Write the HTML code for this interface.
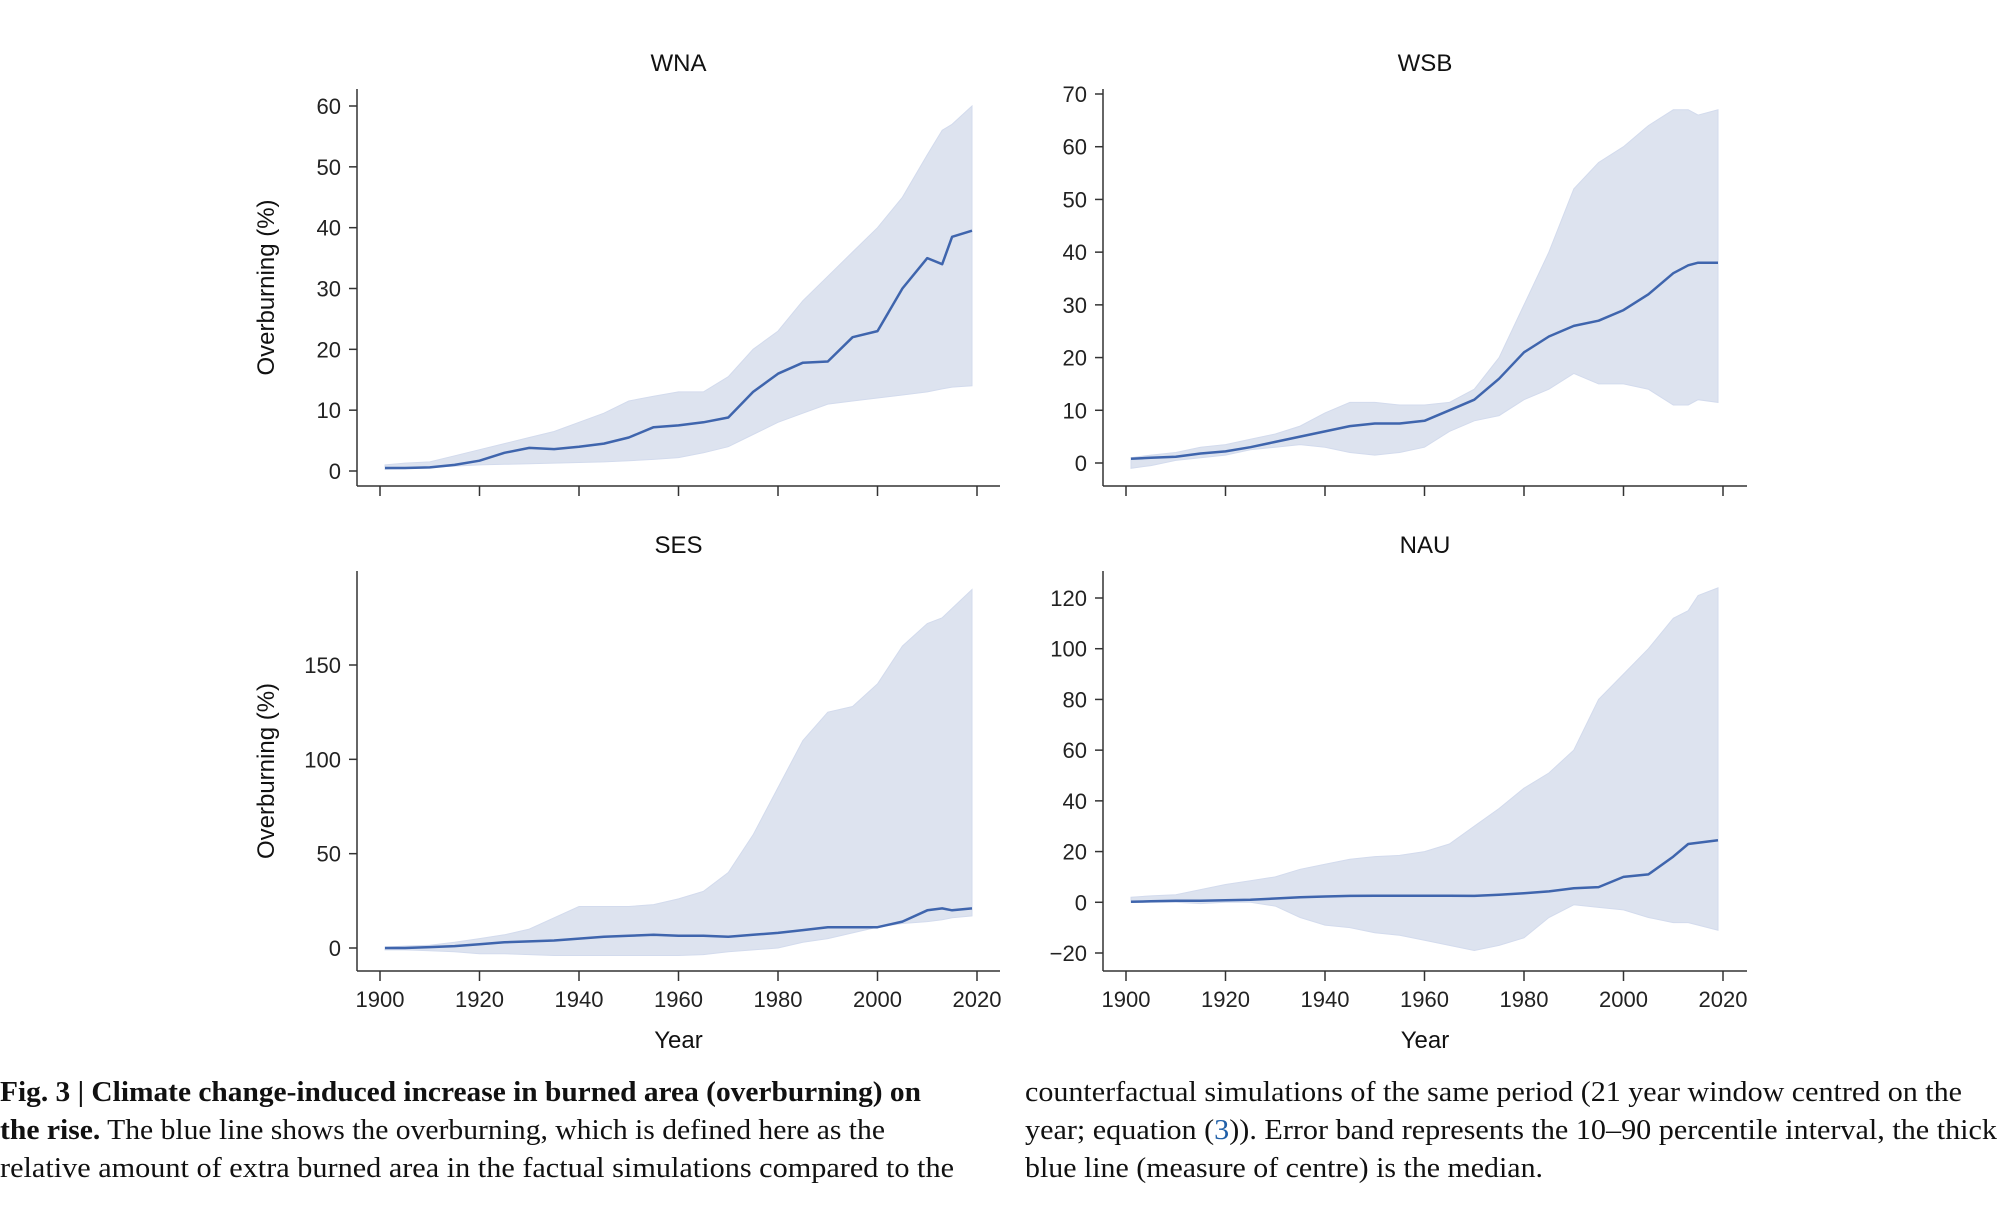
<!DOCTYPE html>
<html><head><meta charset="utf-8">
<style>
html,body{margin:0;padding:0;background:#fff;}
svg{display:block;}
.tick{font-family:"Liberation Sans",sans-serif;font-size:22px;fill:#222;}
.ttl{font-family:"Liberation Sans",sans-serif;font-size:24px;fill:#111;}
.cap{font-family:"Liberation Serif",serif;font-size:28px;fill:#111;}
</style></head>
<body>
<svg id="fig" width="2000" height="1216" viewBox="0 0 2000 1216" xmlns="http://www.w3.org/2000/svg">
<g id="panels"></g>
<g>
<text class="cap" x="0" y="1101" textLength="921" lengthAdjust="spacingAndGlyphs" font-weight="bold">Fig. 3 | Climate change-induced increase in burned area (overburning) on</text>
<text class="cap" x="0" y="1139" textLength="885" lengthAdjust="spacingAndGlyphs"><tspan font-weight="bold">the rise.</tspan> The blue line shows the overburning, which is defined here as the</text>
<text class="cap" x="0" y="1177" textLength="954" lengthAdjust="spacingAndGlyphs">relative amount of extra burned area in the factual simulations compared to the</text>
<text class="cap" x="1025" y="1101" textLength="937" lengthAdjust="spacingAndGlyphs">counterfactual simulations of the same period (21 year window centred on the</text>
<text class="cap" x="1025" y="1139" textLength="972" lengthAdjust="spacingAndGlyphs">year; equation (<tspan fill="#1f5fa8">3</tspan>)). Error band represents the 10–90 percentile interval, the thick</text>
<text class="cap" x="1025" y="1177" textLength="518" lengthAdjust="spacingAndGlyphs">blue line (measure of centre) is the median.</text>
</g>
</svg>
<script>
const years = [1901,1905,1910,1915,1920,1925,1930,1935,1940,1945,1950,1955,1960,1965,1970,1975,1980,1985,1990,1995,2000,2005,2010,2013,2015,2019];
const xTicks = [1900,1920,1940,1960,1980,2000,2020];

const wnaMedian = [0.5,0.5,0.6,1,1.7,3,3.8,3.6,4,4.5,5.5,7.2,7.5,8,8.8,13,16,17.8,18,22,23,30,35,34,38.5,39.5];
const wnaHigh = [1,1.3,1.5,2.5,3.5,4.5,5.5,6.5,8,9.5,11.5,12.3,13,13,15.5,20,23,28,32,36,40,45,52,56,57,60];
const wnaLow = [0.3,0.4,0.6,0.8,1,1.1,1.2,1.3,1.4,1.5,1.7,1.9,2.2,3,4,6,8,9.5,11,11.5,12,12.5,13,13.5,13.8,14];
const wnaTicks = [0,10,20,30,40,50,60];

const wsbMedian = [0.8,1,1.2,1.8,2.2,3,4,5,6,7,7.5,7.5,8,10,12,16,21,24,26,27,29,32,36,37.5,38,38];
const wsbHigh = [1,1.5,2,3,3.5,4.5,5.5,7,9.5,11.5,11.5,11,11,11.5,14,20,30,40,52,57,60,64,67,67,66,67];
const wsbLow = [-1,-0.5,0.5,1,1.5,2.5,3,3.5,3,2,1.5,2,3,6,8,9,12,14,17,15,15,14,11,11,12,11.5];
const wsbTicks = [0,10,20,30,40,50,60,70];

const sesMedian = [0,0,0.5,1,2,3,3.5,4,5,6,6.5,7,6.5,6.5,6,7,8,9.5,11,11,11,14,20,21,20,21];
const sesHigh = [0.5,1,1.5,3,5,7,10,16,22,22,22,23,26,30,40,60,85,110,125,128,140,160,172,175,180,190];
const sesLow = [-1,-1,-1.5,-2,-3,-3,-3.5,-4,-4,-4,-4,-4,-4,-3.5,-2,-1,0,3,5,8,11,13,14,15,16,17];
const sesTicks = [0,50,100,150];

const nauMedian = [0.2,0.4,0.6,0.6,0.8,1,1.5,2,2.3,2.5,2.6,2.6,2.6,2.6,2.5,3,3.6,4.3,5.5,6,10,11,18,23,23.5,24.5];
const nauHigh = [2,2.5,3,5,7,8.5,10,13,15,17,18,18.5,20,23,30,37,45,51,60,80,90,100,112,115,121,124];
const nauLow = [0,0,0,-0.5,0,0,-1.5,-6,-9,-10,-12,-13,-15,-17,-19,-17,-14,-6,-1,-2,-3,-6,-8,-8,-9,-11];
const nauTicks = [-20,0,20,40,60,80,100,120];

const NS = "http://www.w3.org/2000/svg";
const root = document.getElementById('panels');
function mk(tag, attrs, parent){
  const e = document.createElementNS(NS, tag);
  for (const k in attrs) e.setAttribute(k, attrs[k]);
  parent.appendChild(e);
  return e;
}

const panels = [
  {name:'wna', title:'WNA', ax:357, top:89, bottom:486, right:1000, v0:0, y0:471, v1:60, y1:106, med:wnaMedian, hi:wnaHigh, lo:wnaLow, ticks:wnaTicks, ylab:true, xlab:false},
  {name:'wsb', title:'WSB', ax:1103, top:89, bottom:486, right:1747, v0:0, y0:463, v1:70, y1:94, med:wsbMedian, hi:wsbHigh, lo:wsbLow, ticks:wsbTicks, ylab:false, xlab:false},
  {name:'ses', title:'SES', ax:357, top:571, bottom:971, right:1000, v0:0, y0:948, v1:150, y1:665, med:sesMedian, hi:sesHigh, lo:sesLow, ticks:sesTicks, ylab:true, xlab:true},
  {name:'nau', title:'NAU', ax:1103, top:571, bottom:971, right:1747, v0:-20, y0:953, v1:120, y1:598, med:nauMedian, hi:nauHigh, lo:nauLow, ticks:nauTicks, ylab:false, xlab:true}
];

panels.forEach(p => {
  const g = mk('g', {}, root);
  
  
  const x1900 = p.ax + 23, x2020 = p.ax + 620;
  const xs = yr => x1900 + (yr - 1900) * (x2020 - x1900) / 120;
  const ys = v => p.y0 + (v - p.v0) * (p.y1 - p.y0) / (p.v1 - p.v0);

  let d = '';
  years.forEach((yr, i) => { d += (i ? 'L' : 'M') + xs(yr).toFixed(1) + ',' + ys(p.hi[i]).toFixed(1); });
  for (let i = years.length - 1; i >= 0; i--) d += 'L' + xs(years[i]).toFixed(1) + ',' + ys(p.lo[i]).toFixed(1);
  const band = mk('path', {d: d + 'Z', fill: '#dde3ef', stroke: '#d3dbed', 'stroke-width': 1}, g);
  
  

  let m = '';
  years.forEach((yr, i) => { m += (i ? 'L' : 'M') + xs(yr).toFixed(1) + ',' + ys(p.med[i]).toFixed(1); });
  const line = mk('path', {d: m, fill: 'none', stroke: '#3f65ad', 'stroke-width': 2.5, 'stroke-linejoin': 'round'}, g);
  
  

  const yax = mk('line', {x1: p.ax, y1: p.top, x2: p.ax, y2: p.bottom, stroke: '#333', 'stroke-width': 1.5}, g);
  
  
  const xax = mk('line', {x1: p.ax, y1: p.bottom, x2: p.right, y2: p.bottom, stroke: '#333', 'stroke-width': 1.5}, g);
  
  

  p.ticks.forEach(v => {
    const y = ys(v);
    mk('line', {x1: p.ax - 8, y1: y, x2: p.ax, y2: y, stroke: '#333', 'stroke-width': 1.5}, g);
    const t = mk('text', {x: p.ax - 16, y: y + 8, 'text-anchor': 'end', class: 'tick'}, g);
    
    
    t.textContent = v < 0 ? '\u2212' + Math.abs(v) : String(v);
  });
  xTicks.forEach(yr => {
    const x = xs(yr);
    mk('line', {x1: x, y1: p.bottom, x2: x, y2: p.bottom + 10, stroke: '#333', 'stroke-width': 1.5}, g);
    if (p.xlab) {
      const t = mk('text', {x: x, y: p.bottom + 36, 'text-anchor': 'middle', class: 'tick'}, g);
      
      
      t.textContent = String(yr);
    }
  });
  const cx = (p.ax + p.right) / 2;
  const tt = mk('text', {x: cx, y: p.top - 18, 'text-anchor': 'middle', class: 'ttl'}, g);
  
  
  tt.textContent = p.title;
  if (p.xlab) {
    const xl = mk('text', {x: cx, y: p.bottom + 77, 'text-anchor': 'middle', class: 'ttl'}, g);
    
    
    xl.textContent = 'Year';
  }
  if (p.ylab) {
    const my = (p.top + p.bottom) / 2;
    const yl = mk('text', {x: 0, y: 0, 'text-anchor': 'middle', class: 'ttl', transform: 'translate(274,' + my + ') rotate(-90)'}, g);
    
    
    yl.textContent = 'Overburning (%)';
  }
});
</script>
</body></html>
